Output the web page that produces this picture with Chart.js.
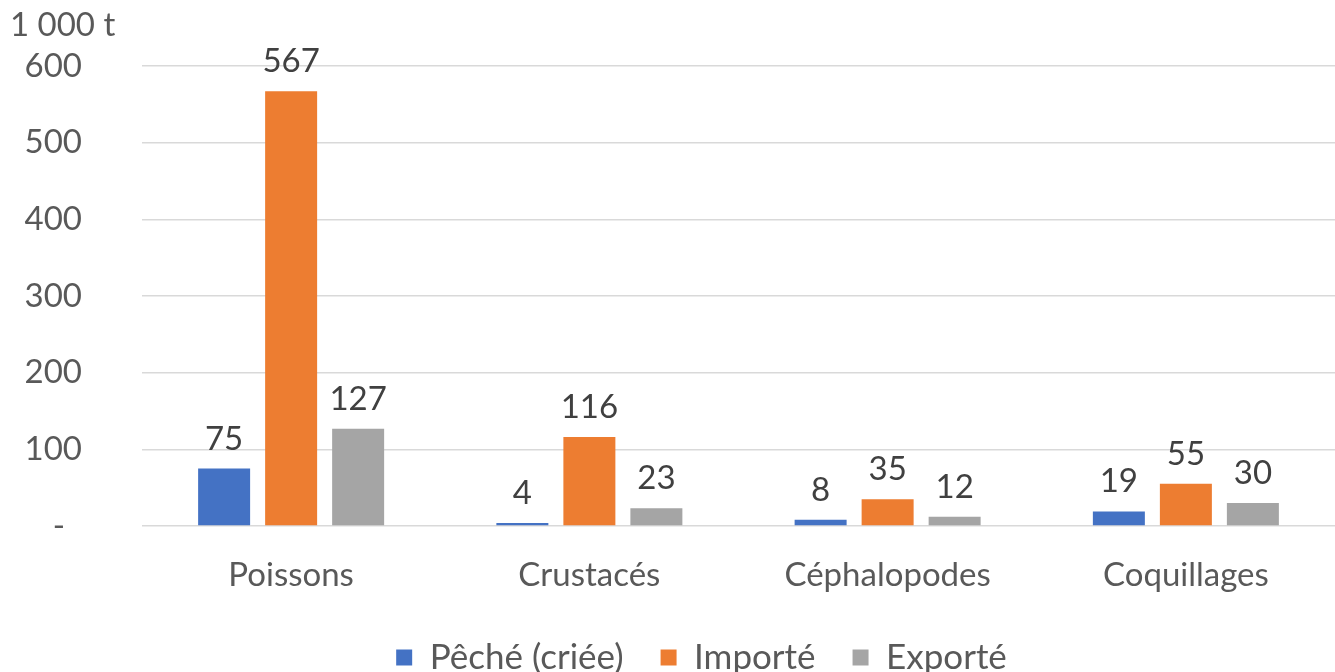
<!DOCTYPE html>
<html>
<head>
<meta charset="utf-8">
<script src="https://cdn.jsdelivr.net/npm/chart.js@4/dist/chart.umd.min.js"></script>
<style>
  html, body { margin: 0; padding: 0; background: #fff; }
  #wrap { width: 1335px; height: 672px; }
</style>
</head>
<body>
<div id="wrap"><canvas id="chart"></canvas></div>
<script>
// --- DONNÉES ---
const categories = ['Poissons', 'Crustacés', 'Céphalopodes', 'Coquillages'];
const peche = [75, 4, 8, 19];
const importe = [567, 116, 35, 55];
const exporte = [127, 23, 12, 30];
const yTicks = [0, 100, 200, 300, 400, 500, 600];
const uniteLabel = '1 000 t';

const FONT = 'Lato';
const TXT = '#595959';
const FS = 33;

// étiquettes de valeur au-dessus des barres + unité en haut à gauche
const labelsPlugin = {
    id: 'labelsPlugin',
    afterLayout(chart) {
        // la légende de l'original est un peu décalée vers la droite
        chart.legend.left += 34;
        chart.legend.right += 34;
    },
    afterDatasetsDraw(chart) {
        const ctx = chart.ctx;
        ctx.save();
        ctx.font = FS + 'px ' + FONT;
        ctx.fillStyle = '#404040';
        ctx.textAlign = 'center';
        ctx.textBaseline = 'alphabetic';
        chart.data.datasets.forEach((ds, i) => {
            chart.getDatasetMeta(i).data.forEach((bar, j) => {
                ctx.fillText(ds.data[j], bar.x, bar.y - 19);
            });
        });
        ctx.fillStyle = TXT;
        ctx.textAlign = 'left';
        ctx.textBaseline = 'middle';
        ctx.fillText(uniteLabel, 10, 25);
        ctx.restore();
    }
};

new Chart(document.getElementById('chart'), {
    type: 'bar',
    data: {
        labels: categories,
        datasets: [
            { label: 'Pêché (criée)', data: peche, backgroundColor: '#4472C4' },
            { label: 'Importé', data: importe, backgroundColor: '#ED7D31' },
            { label: 'Exporté', data: exporte, backgroundColor: '#A5A5A5' }
        ]
    },
    options: {
        responsive: true,
        maintainAspectRatio: false,
        animation: false,
        categoryPercentage: 0.674,
        barPercentage: 0.776,
        layout: { padding: { top: 66, left: 0, right: 0, bottom: -13 } },
        plugins: {
            legend: {
                position: 'bottom',
                labels: {
                    boxWidth: 16, boxHeight: 16, padding: 37,
                    color: TXT, font: { family: FONT, size: 35 }
                }
            },
            tooltip: { enabled: false }
        },
        scales: {
            x: {
                grid: { display: false },
                border: { display: false },
                ticks: { color: TXT, padding: 22, font: { family: FONT, size: FS } },
                afterFit: (s) => { s.height = 77; }
            },
            y: {
                min: 0, max: 600,
                afterBuildTicks: (s) => { s.ticks = yTicks.map(v => ({ value: v })); },
                grid: { color: '#D9D9D9', lineWidth: 1.5, drawTicks: false },
                border: { display: false },
                ticks: {
                    color: TXT, padding: 60, font: { family: FONT, size: FS },
                    callback: (v) => v === 0 ? '-  ' : v
                },
                afterFit: (s) => { s.width = 142; s.paddingTop = 0; s.paddingBottom = 0; }
            }
        }
    },
    plugins: [labelsPlugin]
});
</script>
</body>
</html>
